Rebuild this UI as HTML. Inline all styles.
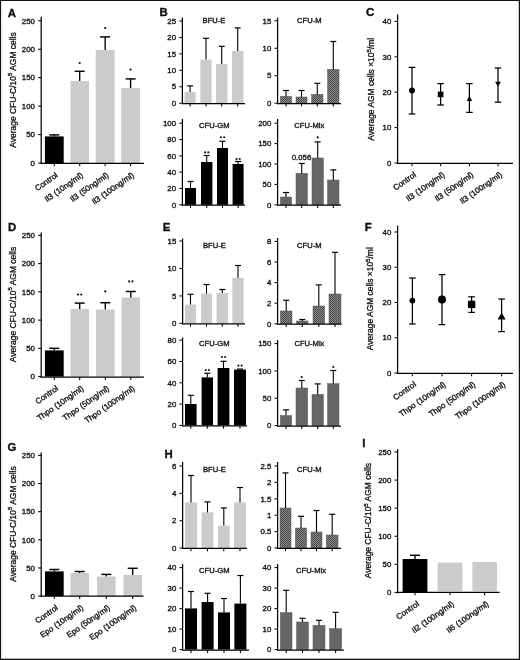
<!DOCTYPE html>
<html lang="en">
<head>
<meta charset="utf-8">
<title>Figure</title>
<style>
html,body{margin:0;padding:0;background:#fff;}
body{width:520px;height:660px;overflow:hidden;position:relative;}
svg{display:block;position:absolute;left:0;top:0;}
svg text{font-family:"Liberation Sans", Arial, Helvetica, sans-serif;fill:#0a0a0a;stroke:#0a0a0a;stroke-width:0.3px;}
</style>
</head>
<body>
<svg width="520" height="660" viewBox="0 0 520 660">
<defs>
<pattern id="ht" width="2" height="2" patternUnits="userSpaceOnUse">
<rect width="2" height="2" fill="#8a8a8a"/>
<rect x="0" y="0" width="1" height="1" fill="#4a4a4a"/>
<rect x="1" y="1" width="1" height="1" fill="#4a4a4a"/>
</pattern>
<filter id="soft" x="0" y="0" width="520" height="660" filterUnits="userSpaceOnUse"><feGaussianBlur stdDeviation="0.35"/></filter>
</defs>
<rect x="0" y="0" width="520" height="660" fill="#fff"/>
<g filter="url(#soft)">
<rect x="44.9" y="136.4" width="18.8" height="26.6" fill="#000000"/>
<rect x="70.4" y="81" width="18.6" height="82" fill="#cbcbcb"/>
<rect x="95.7" y="50" width="18.9" height="113" fill="#cbcbcb"/>
<rect x="121.2" y="88" width="18.8" height="75" fill="#cbcbcb"/>
<line x1="54.3" y1="135" x2="54.3" y2="136.4" stroke="#000" stroke-width="1.35"/>
<line x1="49.3" y1="134.9" x2="59.3" y2="134.9" stroke="#000" stroke-width="1.45"/>
<line x1="79.7" y1="71.4" x2="79.7" y2="81" stroke="#000" stroke-width="1.35"/>
<line x1="74.7" y1="71.3" x2="84.7" y2="71.3" stroke="#000" stroke-width="1.45"/>
<line x1="105.15" y1="37" x2="105.15" y2="50" stroke="#000" stroke-width="1.35"/>
<line x1="100.15" y1="36.9" x2="110.15" y2="36.9" stroke="#000" stroke-width="1.45"/>
<line x1="130.6" y1="79" x2="130.6" y2="88" stroke="#000" stroke-width="1.35"/>
<line x1="125.6" y1="78.9" x2="135.6" y2="78.9" stroke="#000" stroke-width="1.45"/>
<circle cx="79.7" cy="63" r="1.1" fill="#111"/>
<circle cx="105.15" cy="28" r="1.1" fill="#111"/>
<circle cx="130.6" cy="69.6" r="1.1" fill="#111"/>
<line x1="41.2" y1="16.7" x2="41.2" y2="163.95" stroke="#000" stroke-width="1.25"/>
<line x1="38.1" y1="20.8" x2="41.2" y2="20.8" stroke="#000" stroke-width="1.05"/>
<text x="34.9" y="23.5" font-size="7.85" text-anchor="end">250</text>
<line x1="38.1" y1="49.24" x2="41.2" y2="49.24" stroke="#000" stroke-width="1.05"/>
<text x="34.9" y="51.94" font-size="7.85" text-anchor="end">200</text>
<line x1="38.1" y1="77.68" x2="41.2" y2="77.68" stroke="#000" stroke-width="1.05"/>
<text x="34.9" y="80.38" font-size="7.85" text-anchor="end">150</text>
<line x1="38.1" y1="106.12" x2="41.2" y2="106.12" stroke="#000" stroke-width="1.05"/>
<text x="34.9" y="108.82" font-size="7.85" text-anchor="end">100</text>
<line x1="38.1" y1="134.56" x2="41.2" y2="134.56" stroke="#000" stroke-width="1.05"/>
<text x="34.9" y="137.26" font-size="7.85" text-anchor="end">50</text>
<line x1="38.1" y1="163" x2="41.2" y2="163" stroke="#000" stroke-width="1.05"/>
<text x="34.9" y="165.7" font-size="7.85" text-anchor="end">0</text>
<line x1="40.65" y1="163.4" x2="144" y2="163.4" stroke="#000" stroke-width="1.25"/>
<line x1="54.3" y1="163.4" x2="54.3" y2="166.3" stroke="#000" stroke-width="1.05"/>
<line x1="79.7" y1="163.4" x2="79.7" y2="166.3" stroke="#000" stroke-width="1.05"/>
<line x1="105.15" y1="163.4" x2="105.15" y2="166.3" stroke="#000" stroke-width="1.05"/>
<line x1="130.6" y1="163.4" x2="130.6" y2="166.3" stroke="#000" stroke-width="1.05"/>
<text font-size="8.0" text-anchor="end" word-spacing="0.4" transform="translate(58.3,176.5) rotate(-35)">Control</text>
<text font-size="8.0" text-anchor="end" word-spacing="0.4" transform="translate(83.7,176.5) rotate(-35)">Il3 (10ng/ml)</text>
<text font-size="8.0" text-anchor="end" word-spacing="0.4" transform="translate(109.15,176.5) rotate(-35)">Il3 (50ng/ml)</text>
<text font-size="8.0" text-anchor="end" word-spacing="0.4" transform="translate(134.6,176.5) rotate(-35)">Il3 (100ng/ml)</text>
<text font-size="8.45" text-anchor="middle" transform="translate(15.5,90) rotate(-90)">Average CFU-C/10<tspan font-size="6.1" dy="-3.4">5</tspan><tspan dy="3.4"> AGM cells</tspan></text>
<text x="7.7" y="16.8" font-size="11.4" text-anchor="start" font-weight="bold">A</text>
<rect x="44.9" y="350.4" width="18.8" height="26.2" fill="#000000"/>
<rect x="70.4" y="309" width="18.6" height="67.6" fill="#cbcbcb"/>
<rect x="96" y="309.6" width="18.6" height="67" fill="#cbcbcb"/>
<rect x="121.6" y="297.4" width="18.4" height="79.2" fill="#cbcbcb"/>
<line x1="54.3" y1="348.4" x2="54.3" y2="350.4" stroke="#000" stroke-width="1.35"/>
<line x1="49.3" y1="348.3" x2="59.3" y2="348.3" stroke="#000" stroke-width="1.45"/>
<line x1="79.7" y1="303.2" x2="79.7" y2="309" stroke="#000" stroke-width="1.35"/>
<line x1="74.7" y1="303.1" x2="84.7" y2="303.1" stroke="#000" stroke-width="1.45"/>
<line x1="105.3" y1="302.8" x2="105.3" y2="309.6" stroke="#000" stroke-width="1.35"/>
<line x1="100.3" y1="302.7" x2="110.3" y2="302.7" stroke="#000" stroke-width="1.45"/>
<line x1="130.8" y1="291.6" x2="130.8" y2="297.4" stroke="#000" stroke-width="1.35"/>
<line x1="125.8" y1="291.5" x2="135.8" y2="291.5" stroke="#000" stroke-width="1.45"/>
<circle cx="78.1" cy="294.6" r="1.05" fill="#111"/>
<circle cx="81.3" cy="294.6" r="1.05" fill="#111"/>
<circle cx="105.3" cy="291.4" r="1.1" fill="#111"/>
<circle cx="129.2" cy="281.4" r="1.05" fill="#111"/>
<circle cx="132.4" cy="281.4" r="1.05" fill="#111"/>
<line x1="41.2" y1="232.4" x2="41.2" y2="377.55" stroke="#000" stroke-width="1.25"/>
<line x1="38.1" y1="235.4" x2="41.2" y2="235.4" stroke="#000" stroke-width="1.05"/>
<text x="34.9" y="238.1" font-size="7.85" text-anchor="end">250</text>
<line x1="38.1" y1="263.64" x2="41.2" y2="263.64" stroke="#000" stroke-width="1.05"/>
<text x="34.9" y="266.34" font-size="7.85" text-anchor="end">200</text>
<line x1="38.1" y1="291.88" x2="41.2" y2="291.88" stroke="#000" stroke-width="1.05"/>
<text x="34.9" y="294.58" font-size="7.85" text-anchor="end">150</text>
<line x1="38.1" y1="320.12" x2="41.2" y2="320.12" stroke="#000" stroke-width="1.05"/>
<text x="34.9" y="322.82" font-size="7.85" text-anchor="end">100</text>
<line x1="38.1" y1="348.36" x2="41.2" y2="348.36" stroke="#000" stroke-width="1.05"/>
<text x="34.9" y="351.06" font-size="7.85" text-anchor="end">50</text>
<line x1="38.1" y1="376.6" x2="41.2" y2="376.6" stroke="#000" stroke-width="1.05"/>
<text x="34.9" y="379.3" font-size="7.85" text-anchor="end">0</text>
<line x1="40.65" y1="377" x2="144" y2="377" stroke="#000" stroke-width="1.25"/>
<line x1="54.3" y1="377" x2="54.3" y2="379.9" stroke="#000" stroke-width="1.05"/>
<line x1="79.7" y1="377" x2="79.7" y2="379.9" stroke="#000" stroke-width="1.05"/>
<line x1="105.3" y1="377" x2="105.3" y2="379.9" stroke="#000" stroke-width="1.05"/>
<line x1="130.8" y1="377" x2="130.8" y2="379.9" stroke="#000" stroke-width="1.05"/>
<text font-size="8.0" text-anchor="end" word-spacing="0.4" transform="translate(58.8,389.6) rotate(-35)">Control</text>
<text font-size="8.0" text-anchor="end" word-spacing="0.4" transform="translate(84.2,389.6) rotate(-35)">Thpo (10ng/ml)</text>
<text font-size="8.0" text-anchor="end" word-spacing="0.4" transform="translate(109.8,389.6) rotate(-35)">Thpo (50ng/ml)</text>
<text font-size="8.0" text-anchor="end" word-spacing="0.4" transform="translate(135.3,389.6) rotate(-35)">Thpo (100ng/ml)</text>
<text font-size="8.45" text-anchor="middle" transform="translate(15.5,304.5) rotate(-90)">Average CFU-C/10<tspan font-size="6.1" dy="-3.4">5</tspan><tspan dy="3.4"> AGM cells</tspan></text>
<text x="8" y="231" font-size="11.4" text-anchor="start" font-weight="bold">D</text>
<rect x="45" y="571.4" width="18.7" height="24.7" fill="#000000"/>
<rect x="70.4" y="573" width="18.6" height="23.1" fill="#cbcbcb"/>
<rect x="97" y="576.6" width="18.6" height="19.5" fill="#cbcbcb"/>
<rect x="123.4" y="575" width="18.6" height="21.1" fill="#cbcbcb"/>
<line x1="54.35" y1="569.6" x2="54.35" y2="571.4" stroke="#000" stroke-width="1.35"/>
<line x1="49.35" y1="569.5" x2="59.35" y2="569.5" stroke="#000" stroke-width="1.45"/>
<line x1="79.7" y1="571.6" x2="79.7" y2="573" stroke="#000" stroke-width="1.35"/>
<line x1="74.7" y1="571.5" x2="84.7" y2="571.5" stroke="#000" stroke-width="1.45"/>
<line x1="106.3" y1="574.5" x2="106.3" y2="576.6" stroke="#000" stroke-width="1.35"/>
<line x1="101.3" y1="574.4" x2="111.3" y2="574.4" stroke="#000" stroke-width="1.45"/>
<line x1="132.7" y1="568.4" x2="132.7" y2="575" stroke="#000" stroke-width="1.35"/>
<line x1="127.7" y1="568.3" x2="137.7" y2="568.3" stroke="#000" stroke-width="1.45"/>
<line x1="41.2" y1="452.4" x2="41.2" y2="597.05" stroke="#000" stroke-width="1.25"/>
<line x1="38.1" y1="455.4" x2="41.2" y2="455.4" stroke="#000" stroke-width="1.05"/>
<text x="34.9" y="458.1" font-size="7.85" text-anchor="end">250</text>
<line x1="38.1" y1="483.54" x2="41.2" y2="483.54" stroke="#000" stroke-width="1.05"/>
<text x="34.9" y="486.24" font-size="7.85" text-anchor="end">200</text>
<line x1="38.1" y1="511.68" x2="41.2" y2="511.68" stroke="#000" stroke-width="1.05"/>
<text x="34.9" y="514.38" font-size="7.85" text-anchor="end">150</text>
<line x1="38.1" y1="539.82" x2="41.2" y2="539.82" stroke="#000" stroke-width="1.05"/>
<text x="34.9" y="542.52" font-size="7.85" text-anchor="end">100</text>
<line x1="38.1" y1="567.96" x2="41.2" y2="567.96" stroke="#000" stroke-width="1.05"/>
<text x="34.9" y="570.66" font-size="7.85" text-anchor="end">50</text>
<line x1="38.1" y1="596.1" x2="41.2" y2="596.1" stroke="#000" stroke-width="1.05"/>
<text x="34.9" y="598.8" font-size="7.85" text-anchor="end">0</text>
<line x1="40.65" y1="596.1" x2="143.5" y2="596.1" stroke="#000" stroke-width="1.25"/>
<line x1="54.35" y1="596.1" x2="54.35" y2="599" stroke="#000" stroke-width="1.05"/>
<line x1="79.7" y1="596.1" x2="79.7" y2="599" stroke="#000" stroke-width="1.05"/>
<line x1="106.3" y1="596.1" x2="106.3" y2="599" stroke="#000" stroke-width="1.05"/>
<line x1="132.7" y1="596.1" x2="132.7" y2="599" stroke="#000" stroke-width="1.05"/>
<text font-size="8.0" text-anchor="end" word-spacing="0.4" transform="translate(58.55,609) rotate(-35)">Control</text>
<text font-size="8.0" text-anchor="end" word-spacing="0.4" transform="translate(83.9,609) rotate(-35)">Epo (10ng/ml)</text>
<text font-size="8.0" text-anchor="end" word-spacing="0.4" transform="translate(110.5,609) rotate(-35)">Epo (50ng/ml)</text>
<text font-size="8.0" text-anchor="end" word-spacing="0.4" transform="translate(136.9,609) rotate(-35)">Epo (100ng/ml)</text>
<text font-size="8.45" text-anchor="middle" transform="translate(15.5,524) rotate(-90)">Average CFU-C/10<tspan font-size="6.1" dy="-3.4">5</tspan><tspan dy="3.4"> AGM cells</tspan></text>
<text x="7.6" y="450.6" font-size="11.4" text-anchor="start" font-weight="bold">G</text>
<rect x="402.6" y="559" width="24.8" height="33.4" fill="#000000"/>
<rect x="437.6" y="562.6" width="24.8" height="28.6" fill="#cbcbcb"/>
<rect x="472.4" y="562" width="24.6" height="29.2" fill="#cbcbcb"/>
<line x1="415" y1="555.4" x2="415" y2="559" stroke="#000" stroke-width="1.35"/>
<line x1="410" y1="555.3" x2="420" y2="555.3" stroke="#000" stroke-width="1.45"/>
<line x1="397.6" y1="449" x2="397.6" y2="593.35" stroke="#000" stroke-width="1.25"/>
<line x1="394.5" y1="452" x2="397.6" y2="452" stroke="#000" stroke-width="1.05"/>
<text x="391.3" y="454.7" font-size="7.85" text-anchor="end">250</text>
<line x1="394.5" y1="480.08" x2="397.6" y2="480.08" stroke="#000" stroke-width="1.05"/>
<text x="391.3" y="482.78" font-size="7.85" text-anchor="end">200</text>
<line x1="394.5" y1="508.16" x2="397.6" y2="508.16" stroke="#000" stroke-width="1.05"/>
<text x="391.3" y="510.86" font-size="7.85" text-anchor="end">150</text>
<line x1="394.5" y1="536.24" x2="397.6" y2="536.24" stroke="#000" stroke-width="1.05"/>
<text x="391.3" y="538.94" font-size="7.85" text-anchor="end">100</text>
<line x1="394.5" y1="564.32" x2="397.6" y2="564.32" stroke="#000" stroke-width="1.05"/>
<text x="391.3" y="567.02" font-size="7.85" text-anchor="end">50</text>
<line x1="394.5" y1="592.4" x2="397.6" y2="592.4" stroke="#000" stroke-width="1.05"/>
<text x="391.3" y="595.1" font-size="7.85" text-anchor="end">0</text>
<line x1="397.05" y1="592.4" x2="499.6" y2="592.4" stroke="#000" stroke-width="1.25"/>
<line x1="415" y1="592.4" x2="415" y2="595.3" stroke="#000" stroke-width="1.05"/>
<line x1="450" y1="592.4" x2="450" y2="595.3" stroke="#000" stroke-width="1.05"/>
<line x1="484.6" y1="592.4" x2="484.6" y2="595.3" stroke="#000" stroke-width="1.05"/>
<text font-size="8.0" text-anchor="end" word-spacing="0.4" transform="translate(419.7,605.1) rotate(-35)">Control</text>
<text font-size="8.0" text-anchor="end" word-spacing="0.4" transform="translate(454.7,605.1) rotate(-35)">Il2 (100ng/ml)</text>
<text font-size="8.0" text-anchor="end" word-spacing="0.4" transform="translate(489.3,605.1) rotate(-35)">Il6 (100ng/ml)</text>
<text font-size="8.45" text-anchor="middle" transform="translate(371,520.6) rotate(-90)">Average CFU-C/10<tspan font-size="6.1" dy="-3.4">5</tspan><tspan dy="3.4"> AGM cells</tspan></text>
<text x="362.3" y="446.6" font-size="11.4" text-anchor="start" font-weight="bold">I</text>
<rect x="184.6" y="92" width="11" height="11.2" fill="#cbcbcb"/>
<rect x="200.4" y="59.6" width="11.2" height="43.6" fill="#cbcbcb"/>
<rect x="216" y="64" width="11.4" height="39.2" fill="#cbcbcb"/>
<rect x="232" y="51" width="11.4" height="52.2" fill="#cbcbcb"/>
<line x1="190.1" y1="86" x2="190.1" y2="92" stroke="#000" stroke-width="1.1"/>
<line x1="187.1" y1="85.9" x2="193.1" y2="85.9" stroke="#000" stroke-width="1.2"/>
<line x1="206" y1="38.4" x2="206" y2="59.6" stroke="#000" stroke-width="1.1"/>
<line x1="203" y1="38.3" x2="209" y2="38.3" stroke="#000" stroke-width="1.2"/>
<line x1="221.7" y1="46.4" x2="221.7" y2="64" stroke="#000" stroke-width="1.1"/>
<line x1="218.7" y1="46.3" x2="224.7" y2="46.3" stroke="#000" stroke-width="1.2"/>
<line x1="237.7" y1="28" x2="237.7" y2="51" stroke="#000" stroke-width="1.1"/>
<line x1="234.7" y1="27.9" x2="240.7" y2="27.9" stroke="#000" stroke-width="1.2"/>
<line x1="182.4" y1="17.6" x2="182.4" y2="104.15" stroke="#000" stroke-width="1.25"/>
<line x1="179.3" y1="21" x2="182.4" y2="21" stroke="#000" stroke-width="1.05"/>
<text x="176.1" y="23.7" font-size="7.85" text-anchor="end">25</text>
<line x1="179.3" y1="37.44" x2="182.4" y2="37.44" stroke="#000" stroke-width="1.05"/>
<text x="176.1" y="40.14" font-size="7.85" text-anchor="end">20</text>
<line x1="179.3" y1="53.88" x2="182.4" y2="53.88" stroke="#000" stroke-width="1.05"/>
<text x="176.1" y="56.58" font-size="7.85" text-anchor="end">15</text>
<line x1="179.3" y1="70.32" x2="182.4" y2="70.32" stroke="#000" stroke-width="1.05"/>
<text x="176.1" y="73.02" font-size="7.85" text-anchor="end">10</text>
<line x1="179.3" y1="86.76" x2="182.4" y2="86.76" stroke="#000" stroke-width="1.05"/>
<text x="176.1" y="89.46" font-size="7.85" text-anchor="end">5</text>
<line x1="179.3" y1="103.2" x2="182.4" y2="103.2" stroke="#000" stroke-width="1.05"/>
<text x="176.1" y="105.9" font-size="7.85" text-anchor="end">0</text>
<line x1="181.85" y1="103.6" x2="245" y2="103.6" stroke="#000" stroke-width="1.25"/>
<line x1="190.1" y1="103.6" x2="190.1" y2="106.5" stroke="#000" stroke-width="1.05"/>
<line x1="206" y1="103.6" x2="206" y2="106.5" stroke="#000" stroke-width="1.05"/>
<line x1="221.7" y1="103.6" x2="221.7" y2="106.5" stroke="#000" stroke-width="1.05"/>
<line x1="237.7" y1="103.6" x2="237.7" y2="106.5" stroke="#000" stroke-width="1.05"/>
<text x="214" y="23.3" font-size="7.6" text-anchor="middle">BFU-E</text>
<rect x="280.4" y="96.4" width="11.2" height="6.8" fill="url(#ht)" stroke="#555" stroke-width="0.5"/>
<rect x="296" y="97" width="11" height="6.2" fill="url(#ht)" stroke="#555" stroke-width="0.5"/>
<rect x="311.6" y="94.4" width="11.4" height="8.8" fill="url(#ht)" stroke="#555" stroke-width="0.5"/>
<rect x="327.6" y="69.4" width="11.4" height="33.8" fill="url(#ht)" stroke="#555" stroke-width="0.5"/>
<line x1="286" y1="90.6" x2="286" y2="96.4" stroke="#000" stroke-width="1.1"/>
<line x1="283" y1="90.5" x2="289" y2="90.5" stroke="#000" stroke-width="1.2"/>
<line x1="301.5" y1="90.6" x2="301.5" y2="97" stroke="#000" stroke-width="1.1"/>
<line x1="298.5" y1="90.5" x2="304.5" y2="90.5" stroke="#000" stroke-width="1.2"/>
<line x1="317.3" y1="83.4" x2="317.3" y2="94.4" stroke="#000" stroke-width="1.1"/>
<line x1="314.3" y1="83.3" x2="320.3" y2="83.3" stroke="#000" stroke-width="1.2"/>
<line x1="333.3" y1="41.6" x2="333.3" y2="69.4" stroke="#000" stroke-width="1.1"/>
<line x1="330.3" y1="41.5" x2="336.3" y2="41.5" stroke="#000" stroke-width="1.2"/>
<line x1="277.6" y1="17.6" x2="277.6" y2="104.15" stroke="#000" stroke-width="1.25"/>
<line x1="274.5" y1="20.8" x2="277.6" y2="20.8" stroke="#000" stroke-width="1.05"/>
<text x="271.3" y="23.5" font-size="7.85" text-anchor="end">15</text>
<line x1="274.5" y1="48.27" x2="277.6" y2="48.27" stroke="#000" stroke-width="1.05"/>
<text x="271.3" y="50.97" font-size="7.85" text-anchor="end">10</text>
<line x1="274.5" y1="75.73" x2="277.6" y2="75.73" stroke="#000" stroke-width="1.05"/>
<text x="271.3" y="78.43" font-size="7.85" text-anchor="end">5</text>
<line x1="274.5" y1="103.2" x2="277.6" y2="103.2" stroke="#000" stroke-width="1.05"/>
<text x="271.3" y="105.9" font-size="7.85" text-anchor="end">0</text>
<line x1="277.05" y1="103.6" x2="341" y2="103.6" stroke="#000" stroke-width="1.25"/>
<line x1="286" y1="103.6" x2="286" y2="106.5" stroke="#000" stroke-width="1.05"/>
<line x1="301.5" y1="103.6" x2="301.5" y2="106.5" stroke="#000" stroke-width="1.05"/>
<line x1="317.3" y1="103.6" x2="317.3" y2="106.5" stroke="#000" stroke-width="1.05"/>
<line x1="333.3" y1="103.6" x2="333.3" y2="106.5" stroke="#000" stroke-width="1.05"/>
<text x="309.3" y="23.3" font-size="7.6" text-anchor="middle">CFU-M</text>
<rect x="185" y="188" width="11" height="16.8" fill="#000000"/>
<rect x="201" y="162" width="11.4" height="42.8" fill="#000000"/>
<rect x="217" y="148" width="11" height="56.8" fill="#000000"/>
<rect x="232.6" y="164" width="11" height="40.8" fill="#000000"/>
<line x1="190.5" y1="181.6" x2="190.5" y2="188" stroke="#000" stroke-width="1.1"/>
<line x1="187.5" y1="181.5" x2="193.5" y2="181.5" stroke="#000" stroke-width="1.2"/>
<line x1="206.7" y1="155.6" x2="206.7" y2="162" stroke="#000" stroke-width="1.1"/>
<line x1="203.7" y1="155.5" x2="209.7" y2="155.5" stroke="#000" stroke-width="1.2"/>
<line x1="222.5" y1="141.4" x2="222.5" y2="148" stroke="#000" stroke-width="1.1"/>
<line x1="219.5" y1="141.3" x2="225.5" y2="141.3" stroke="#000" stroke-width="1.2"/>
<line x1="238.1" y1="161.6" x2="238.1" y2="164" stroke="#000" stroke-width="1.1"/>
<line x1="235.1" y1="161.5" x2="241.1" y2="161.5" stroke="#000" stroke-width="1.2"/>
<circle cx="205.1" cy="152.4" r="1.05" fill="#111"/>
<circle cx="208.3" cy="152.4" r="1.05" fill="#111"/>
<circle cx="220.9" cy="137.2" r="1.05" fill="#111"/>
<circle cx="224.1" cy="137.2" r="1.05" fill="#111"/>
<circle cx="236.5" cy="159" r="1.05" fill="#111"/>
<circle cx="239.7" cy="159" r="1.05" fill="#111"/>
<line x1="182.4" y1="119" x2="182.4" y2="205.75" stroke="#000" stroke-width="1.25"/>
<line x1="179.3" y1="123.2" x2="182.4" y2="123.2" stroke="#000" stroke-width="1.05"/>
<text x="176.1" y="125.9" font-size="7.85" text-anchor="end">100</text>
<line x1="179.3" y1="139.52" x2="182.4" y2="139.52" stroke="#000" stroke-width="1.05"/>
<text x="176.1" y="142.22" font-size="7.85" text-anchor="end">80</text>
<line x1="179.3" y1="155.84" x2="182.4" y2="155.84" stroke="#000" stroke-width="1.05"/>
<text x="176.1" y="158.54" font-size="7.85" text-anchor="end">60</text>
<line x1="179.3" y1="172.16" x2="182.4" y2="172.16" stroke="#000" stroke-width="1.05"/>
<text x="176.1" y="174.86" font-size="7.85" text-anchor="end">40</text>
<line x1="179.3" y1="188.48" x2="182.4" y2="188.48" stroke="#000" stroke-width="1.05"/>
<text x="176.1" y="191.18" font-size="7.85" text-anchor="end">20</text>
<line x1="179.3" y1="204.8" x2="182.4" y2="204.8" stroke="#000" stroke-width="1.05"/>
<text x="176.1" y="207.5" font-size="7.85" text-anchor="end">0</text>
<line x1="181.85" y1="205.2" x2="245" y2="205.2" stroke="#000" stroke-width="1.25"/>
<line x1="190.5" y1="205.2" x2="190.5" y2="208.1" stroke="#000" stroke-width="1.05"/>
<line x1="206.7" y1="205.2" x2="206.7" y2="208.1" stroke="#000" stroke-width="1.05"/>
<line x1="222.5" y1="205.2" x2="222.5" y2="208.1" stroke="#000" stroke-width="1.05"/>
<line x1="238.1" y1="205.2" x2="238.1" y2="208.1" stroke="#000" stroke-width="1.05"/>
<text x="214.3" y="127.7" font-size="7.6" text-anchor="middle">CFU-GM</text>
<rect x="280.4" y="197" width="11.2" height="7.8" fill="#666666" stroke="#555" stroke-width="0.5"/>
<rect x="296" y="173.4" width="11.4" height="31.4" fill="#666666" stroke="#555" stroke-width="0.5"/>
<rect x="312" y="158" width="11.4" height="46.8" fill="#666666" stroke="#555" stroke-width="0.5"/>
<rect x="327.6" y="180" width="11.4" height="24.8" fill="#666666" stroke="#555" stroke-width="0.5"/>
<line x1="286" y1="192.6" x2="286" y2="197" stroke="#000" stroke-width="1.1"/>
<line x1="283" y1="192.5" x2="289" y2="192.5" stroke="#000" stroke-width="1.2"/>
<line x1="301.7" y1="163.6" x2="301.7" y2="173.4" stroke="#000" stroke-width="1.1"/>
<line x1="298.7" y1="163.5" x2="304.7" y2="163.5" stroke="#000" stroke-width="1.2"/>
<line x1="317.7" y1="142" x2="317.7" y2="158" stroke="#000" stroke-width="1.1"/>
<line x1="314.7" y1="141.9" x2="320.7" y2="141.9" stroke="#000" stroke-width="1.2"/>
<line x1="333.3" y1="170" x2="333.3" y2="180" stroke="#000" stroke-width="1.1"/>
<line x1="330.3" y1="169.9" x2="336.3" y2="169.9" stroke="#000" stroke-width="1.2"/>
<circle cx="317.7" cy="137.4" r="1.1" fill="#111"/>
<line x1="277.6" y1="119" x2="277.6" y2="205.75" stroke="#000" stroke-width="1.25"/>
<line x1="274.5" y1="123.2" x2="277.6" y2="123.2" stroke="#000" stroke-width="1.05"/>
<text x="271.3" y="125.9" font-size="7.85" text-anchor="end">200</text>
<line x1="274.5" y1="143.6" x2="277.6" y2="143.6" stroke="#000" stroke-width="1.05"/>
<text x="271.3" y="146.3" font-size="7.85" text-anchor="end">150</text>
<line x1="274.5" y1="164" x2="277.6" y2="164" stroke="#000" stroke-width="1.05"/>
<text x="271.3" y="166.7" font-size="7.85" text-anchor="end">100</text>
<line x1="274.5" y1="184.4" x2="277.6" y2="184.4" stroke="#000" stroke-width="1.05"/>
<text x="271.3" y="187.1" font-size="7.85" text-anchor="end">50</text>
<line x1="274.5" y1="204.8" x2="277.6" y2="204.8" stroke="#000" stroke-width="1.05"/>
<text x="271.3" y="207.5" font-size="7.85" text-anchor="end">0</text>
<line x1="277.05" y1="205.2" x2="341" y2="205.2" stroke="#000" stroke-width="1.25"/>
<line x1="286" y1="205.2" x2="286" y2="208.1" stroke="#000" stroke-width="1.05"/>
<line x1="301.7" y1="205.2" x2="301.7" y2="208.1" stroke="#000" stroke-width="1.05"/>
<line x1="317.7" y1="205.2" x2="317.7" y2="208.1" stroke="#000" stroke-width="1.05"/>
<line x1="333.3" y1="205.2" x2="333.3" y2="208.1" stroke="#000" stroke-width="1.05"/>
<text x="309.3" y="127.7" font-size="7.6" text-anchor="middle">CFU-Mix</text>
<text x="301.5" y="160.3" font-size="7.85" text-anchor="middle">0.056</text>
<text x="159.4" y="15.8" font-size="11.4" text-anchor="start" font-weight="bold">B</text>
<rect x="185" y="304.6" width="11" height="18.8" fill="#cbcbcb"/>
<rect x="201" y="293.6" width="11" height="29.8" fill="#cbcbcb"/>
<rect x="216.6" y="293" width="11.4" height="30.4" fill="#cbcbcb"/>
<rect x="232.4" y="278" width="11.2" height="45.4" fill="#cbcbcb"/>
<line x1="190.5" y1="294.4" x2="190.5" y2="304.6" stroke="#000" stroke-width="1.1"/>
<line x1="187.5" y1="294.3" x2="193.5" y2="294.3" stroke="#000" stroke-width="1.2"/>
<line x1="206.5" y1="284.6" x2="206.5" y2="293.6" stroke="#000" stroke-width="1.1"/>
<line x1="203.5" y1="284.5" x2="209.5" y2="284.5" stroke="#000" stroke-width="1.2"/>
<line x1="222.3" y1="289.6" x2="222.3" y2="293" stroke="#000" stroke-width="1.1"/>
<line x1="219.3" y1="289.5" x2="225.3" y2="289.5" stroke="#000" stroke-width="1.2"/>
<line x1="238" y1="265.6" x2="238" y2="278" stroke="#000" stroke-width="1.1"/>
<line x1="235" y1="265.5" x2="241" y2="265.5" stroke="#000" stroke-width="1.2"/>
<line x1="182.6" y1="238.6" x2="182.6" y2="324.35" stroke="#000" stroke-width="1.25"/>
<line x1="179.5" y1="241" x2="182.6" y2="241" stroke="#000" stroke-width="1.05"/>
<text x="176.3" y="243.7" font-size="7.85" text-anchor="end">15</text>
<line x1="179.5" y1="268.47" x2="182.6" y2="268.47" stroke="#000" stroke-width="1.05"/>
<text x="176.3" y="271.17" font-size="7.85" text-anchor="end">10</text>
<line x1="179.5" y1="295.93" x2="182.6" y2="295.93" stroke="#000" stroke-width="1.05"/>
<text x="176.3" y="298.63" font-size="7.85" text-anchor="end">5</text>
<line x1="179.5" y1="323.4" x2="182.6" y2="323.4" stroke="#000" stroke-width="1.05"/>
<text x="176.3" y="326.1" font-size="7.85" text-anchor="end">0</text>
<line x1="182.05" y1="323.8" x2="245" y2="323.8" stroke="#000" stroke-width="1.25"/>
<line x1="190.5" y1="323.8" x2="190.5" y2="326.7" stroke="#000" stroke-width="1.05"/>
<line x1="206.5" y1="323.8" x2="206.5" y2="326.7" stroke="#000" stroke-width="1.05"/>
<line x1="222.3" y1="323.8" x2="222.3" y2="326.7" stroke="#000" stroke-width="1.05"/>
<line x1="238" y1="323.8" x2="238" y2="326.7" stroke="#000" stroke-width="1.05"/>
<text x="214.4" y="247.7" font-size="7.6" text-anchor="middle">BFU-E</text>
<rect x="280.4" y="311" width="11.6" height="12.8" fill="url(#ht)" stroke="#555" stroke-width="0.5"/>
<rect x="296.6" y="321" width="11.4" height="2.8" fill="url(#ht)" stroke="#555" stroke-width="0.5"/>
<rect x="313" y="306" width="11.6" height="17.8" fill="url(#ht)" stroke="#555" stroke-width="0.5"/>
<rect x="329" y="294" width="12" height="29.8" fill="url(#ht)" stroke="#555" stroke-width="0.5"/>
<line x1="286.2" y1="300.4" x2="286.2" y2="311" stroke="#000" stroke-width="1.1"/>
<line x1="283.2" y1="300.3" x2="289.2" y2="300.3" stroke="#000" stroke-width="1.2"/>
<line x1="302.3" y1="319.6" x2="302.3" y2="321" stroke="#000" stroke-width="1.1"/>
<line x1="299.3" y1="319.5" x2="305.3" y2="319.5" stroke="#000" stroke-width="1.2"/>
<line x1="318.8" y1="285" x2="318.8" y2="306" stroke="#000" stroke-width="1.1"/>
<line x1="315.8" y1="284.9" x2="321.8" y2="284.9" stroke="#000" stroke-width="1.2"/>
<line x1="335" y1="252.4" x2="335" y2="294" stroke="#000" stroke-width="1.1"/>
<line x1="332" y1="252.3" x2="338" y2="252.3" stroke="#000" stroke-width="1.2"/>
<line x1="277.6" y1="238" x2="277.6" y2="324.75" stroke="#000" stroke-width="1.25"/>
<line x1="274.5" y1="241.4" x2="277.6" y2="241.4" stroke="#000" stroke-width="1.05"/>
<text x="271.3" y="244.1" font-size="7.85" text-anchor="end">8</text>
<line x1="274.5" y1="262" x2="277.6" y2="262" stroke="#000" stroke-width="1.05"/>
<text x="271.3" y="264.7" font-size="7.85" text-anchor="end">6</text>
<line x1="274.5" y1="282.6" x2="277.6" y2="282.6" stroke="#000" stroke-width="1.05"/>
<text x="271.3" y="285.3" font-size="7.85" text-anchor="end">4</text>
<line x1="274.5" y1="303.2" x2="277.6" y2="303.2" stroke="#000" stroke-width="1.05"/>
<text x="271.3" y="305.9" font-size="7.85" text-anchor="end">2</text>
<line x1="274.5" y1="323.8" x2="277.6" y2="323.8" stroke="#000" stroke-width="1.05"/>
<text x="271.3" y="326.5" font-size="7.85" text-anchor="end">0</text>
<line x1="277.05" y1="324.2" x2="341.6" y2="324.2" stroke="#000" stroke-width="1.25"/>
<line x1="286.2" y1="324.2" x2="286.2" y2="327.1" stroke="#000" stroke-width="1.05"/>
<line x1="302.3" y1="324.2" x2="302.3" y2="327.1" stroke="#000" stroke-width="1.05"/>
<line x1="318.8" y1="324.2" x2="318.8" y2="327.1" stroke="#000" stroke-width="1.05"/>
<line x1="335" y1="324.2" x2="335" y2="327.1" stroke="#000" stroke-width="1.05"/>
<text x="309.3" y="247.7" font-size="7.6" text-anchor="middle">CFU-M</text>
<rect x="185" y="404" width="11.6" height="21.4" fill="#000000"/>
<rect x="201.6" y="377.4" width="11.4" height="48" fill="#000000"/>
<rect x="217.6" y="368" width="11.8" height="57.4" fill="#000000"/>
<rect x="234" y="369.6" width="12" height="55.8" fill="#000000"/>
<line x1="190.8" y1="395.4" x2="190.8" y2="404" stroke="#000" stroke-width="1.1"/>
<line x1="187.8" y1="395.3" x2="193.8" y2="395.3" stroke="#000" stroke-width="1.2"/>
<line x1="207.3" y1="373.4" x2="207.3" y2="377.4" stroke="#000" stroke-width="1.1"/>
<line x1="204.3" y1="373.3" x2="210.3" y2="373.3" stroke="#000" stroke-width="1.2"/>
<line x1="223.5" y1="361.4" x2="223.5" y2="368" stroke="#000" stroke-width="1.1"/>
<line x1="220.5" y1="361.3" x2="226.5" y2="361.3" stroke="#000" stroke-width="1.2"/>
<line x1="240" y1="369.2" x2="240" y2="369.6" stroke="#000" stroke-width="1.1"/>
<line x1="237" y1="369.1" x2="243" y2="369.1" stroke="#000" stroke-width="1.2"/>
<circle cx="205.7" cy="370" r="1.05" fill="#111"/>
<circle cx="208.9" cy="370" r="1.05" fill="#111"/>
<circle cx="221.9" cy="357" r="1.05" fill="#111"/>
<circle cx="225.1" cy="357" r="1.05" fill="#111"/>
<circle cx="238.4" cy="365.6" r="1.05" fill="#111"/>
<circle cx="241.6" cy="365.6" r="1.05" fill="#111"/>
<line x1="182.6" y1="337.6" x2="182.6" y2="426.35" stroke="#000" stroke-width="1.25"/>
<line x1="179.5" y1="340.2" x2="182.6" y2="340.2" stroke="#000" stroke-width="1.05"/>
<text x="176.3" y="342.9" font-size="7.85" text-anchor="end">80</text>
<line x1="179.5" y1="361.5" x2="182.6" y2="361.5" stroke="#000" stroke-width="1.05"/>
<text x="176.3" y="364.2" font-size="7.85" text-anchor="end">60</text>
<line x1="179.5" y1="382.8" x2="182.6" y2="382.8" stroke="#000" stroke-width="1.05"/>
<text x="176.3" y="385.5" font-size="7.85" text-anchor="end">40</text>
<line x1="179.5" y1="404.1" x2="182.6" y2="404.1" stroke="#000" stroke-width="1.05"/>
<text x="176.3" y="406.8" font-size="7.85" text-anchor="end">20</text>
<line x1="179.5" y1="425.4" x2="182.6" y2="425.4" stroke="#000" stroke-width="1.05"/>
<text x="176.3" y="428.1" font-size="7.85" text-anchor="end">0</text>
<line x1="182.05" y1="425.8" x2="247" y2="425.8" stroke="#000" stroke-width="1.25"/>
<line x1="190.8" y1="425.8" x2="190.8" y2="428.7" stroke="#000" stroke-width="1.05"/>
<line x1="207.3" y1="425.8" x2="207.3" y2="428.7" stroke="#000" stroke-width="1.05"/>
<line x1="223.5" y1="425.8" x2="223.5" y2="428.7" stroke="#000" stroke-width="1.05"/>
<line x1="240" y1="425.8" x2="240" y2="428.7" stroke="#000" stroke-width="1.05"/>
<text x="214.3" y="346.3" font-size="7.6" text-anchor="middle">CFU-GM</text>
<rect x="280.4" y="415.6" width="11.2" height="10" fill="#666666" stroke="#555" stroke-width="0.5"/>
<rect x="296" y="388" width="11.6" height="37.6" fill="#666666" stroke="#555" stroke-width="0.5"/>
<rect x="312" y="394.4" width="11.4" height="31.2" fill="#666666" stroke="#555" stroke-width="0.5"/>
<rect x="327.6" y="383.6" width="11.4" height="42" fill="#666666" stroke="#555" stroke-width="0.5"/>
<line x1="286" y1="410" x2="286" y2="415.6" stroke="#000" stroke-width="1.1"/>
<line x1="283" y1="409.9" x2="289" y2="409.9" stroke="#000" stroke-width="1.2"/>
<line x1="301.8" y1="380.6" x2="301.8" y2="388" stroke="#000" stroke-width="1.1"/>
<line x1="298.8" y1="380.5" x2="304.8" y2="380.5" stroke="#000" stroke-width="1.2"/>
<line x1="317.7" y1="384" x2="317.7" y2="394.4" stroke="#000" stroke-width="1.1"/>
<line x1="314.7" y1="383.9" x2="320.7" y2="383.9" stroke="#000" stroke-width="1.2"/>
<line x1="333.3" y1="370.6" x2="333.3" y2="383.6" stroke="#000" stroke-width="1.1"/>
<line x1="330.3" y1="370.5" x2="336.3" y2="370.5" stroke="#000" stroke-width="1.2"/>
<circle cx="301.8" cy="377" r="1.1" fill="#111"/>
<circle cx="333.3" cy="367" r="1.1" fill="#111"/>
<line x1="277.6" y1="340" x2="277.6" y2="426.55" stroke="#000" stroke-width="1.25"/>
<line x1="274.5" y1="343.6" x2="277.6" y2="343.6" stroke="#000" stroke-width="1.05"/>
<text x="271.3" y="346.3" font-size="7.85" text-anchor="end">150</text>
<line x1="274.5" y1="370.93" x2="277.6" y2="370.93" stroke="#000" stroke-width="1.05"/>
<text x="271.3" y="373.63" font-size="7.85" text-anchor="end">100</text>
<line x1="274.5" y1="398.27" x2="277.6" y2="398.27" stroke="#000" stroke-width="1.05"/>
<text x="271.3" y="400.97" font-size="7.85" text-anchor="end">50</text>
<line x1="274.5" y1="425.6" x2="277.6" y2="425.6" stroke="#000" stroke-width="1.05"/>
<text x="271.3" y="428.3" font-size="7.85" text-anchor="end">0</text>
<line x1="277.05" y1="426" x2="341" y2="426" stroke="#000" stroke-width="1.25"/>
<line x1="286" y1="426" x2="286" y2="428.9" stroke="#000" stroke-width="1.05"/>
<line x1="301.8" y1="426" x2="301.8" y2="428.9" stroke="#000" stroke-width="1.05"/>
<line x1="317.7" y1="426" x2="317.7" y2="428.9" stroke="#000" stroke-width="1.05"/>
<line x1="333.3" y1="426" x2="333.3" y2="428.9" stroke="#000" stroke-width="1.05"/>
<text x="309.4" y="346.3" font-size="7.6" text-anchor="middle">CFU-Mix</text>
<text x="162.8" y="230.8" font-size="11.4" text-anchor="start" font-weight="bold">E</text>
<rect x="185" y="502.4" width="12" height="45.6" fill="#cbcbcb"/>
<rect x="201.6" y="512.4" width="11.8" height="35.6" fill="#cbcbcb"/>
<rect x="218" y="525.6" width="11.6" height="22.4" fill="#cbcbcb"/>
<rect x="234" y="502.4" width="12" height="45.6" fill="#cbcbcb"/>
<line x1="191" y1="475.6" x2="191" y2="502.4" stroke="#000" stroke-width="1.1"/>
<line x1="188" y1="475.5" x2="194" y2="475.5" stroke="#000" stroke-width="1.2"/>
<line x1="207.5" y1="502" x2="207.5" y2="512.4" stroke="#000" stroke-width="1.1"/>
<line x1="204.5" y1="501.9" x2="210.5" y2="501.9" stroke="#000" stroke-width="1.2"/>
<line x1="223.8" y1="508" x2="223.8" y2="525.6" stroke="#000" stroke-width="1.1"/>
<line x1="220.8" y1="507.9" x2="226.8" y2="507.9" stroke="#000" stroke-width="1.2"/>
<line x1="240" y1="487.6" x2="240" y2="502.4" stroke="#000" stroke-width="1.1"/>
<line x1="237" y1="487.5" x2="243" y2="487.5" stroke="#000" stroke-width="1.2"/>
<line x1="182.6" y1="462" x2="182.6" y2="548.95" stroke="#000" stroke-width="1.25"/>
<line x1="179.5" y1="466" x2="182.6" y2="466" stroke="#000" stroke-width="1.05"/>
<text x="176.3" y="468.7" font-size="7.85" text-anchor="end">6</text>
<line x1="179.5" y1="493.33" x2="182.6" y2="493.33" stroke="#000" stroke-width="1.05"/>
<text x="176.3" y="496.03" font-size="7.85" text-anchor="end">4</text>
<line x1="179.5" y1="520.67" x2="182.6" y2="520.67" stroke="#000" stroke-width="1.05"/>
<text x="176.3" y="523.37" font-size="7.85" text-anchor="end">2</text>
<line x1="179.5" y1="548" x2="182.6" y2="548" stroke="#000" stroke-width="1.05"/>
<text x="176.3" y="550.7" font-size="7.85" text-anchor="end">0</text>
<line x1="182.05" y1="548.4" x2="247" y2="548.4" stroke="#000" stroke-width="1.25"/>
<line x1="191" y1="548.4" x2="191" y2="551.3" stroke="#000" stroke-width="1.05"/>
<line x1="207.5" y1="548.4" x2="207.5" y2="551.3" stroke="#000" stroke-width="1.05"/>
<line x1="223.8" y1="548.4" x2="223.8" y2="551.3" stroke="#000" stroke-width="1.05"/>
<line x1="240" y1="548.4" x2="240" y2="551.3" stroke="#000" stroke-width="1.05"/>
<text x="214.4" y="471.7" font-size="7.6" text-anchor="middle">BFU-E</text>
<rect x="280" y="508" width="11" height="40" fill="url(#ht)" stroke="#555" stroke-width="0.5"/>
<rect x="295.4" y="528" width="11.2" height="20" fill="url(#ht)" stroke="#555" stroke-width="0.5"/>
<rect x="311" y="532" width="11" height="16" fill="url(#ht)" stroke="#555" stroke-width="0.5"/>
<rect x="326.4" y="535" width="11.6" height="13" fill="url(#ht)" stroke="#555" stroke-width="0.5"/>
<line x1="285.5" y1="473" x2="285.5" y2="508" stroke="#000" stroke-width="1.1"/>
<line x1="282.5" y1="472.9" x2="288.5" y2="472.9" stroke="#000" stroke-width="1.2"/>
<line x1="301" y1="516.4" x2="301" y2="528" stroke="#000" stroke-width="1.1"/>
<line x1="298" y1="516.3" x2="304" y2="516.3" stroke="#000" stroke-width="1.2"/>
<line x1="316.5" y1="510.6" x2="316.5" y2="532" stroke="#000" stroke-width="1.1"/>
<line x1="313.5" y1="510.5" x2="319.5" y2="510.5" stroke="#000" stroke-width="1.2"/>
<line x1="332.2" y1="514.4" x2="332.2" y2="535" stroke="#000" stroke-width="1.1"/>
<line x1="329.2" y1="514.3" x2="335.2" y2="514.3" stroke="#000" stroke-width="1.2"/>
<line x1="277.6" y1="462" x2="277.6" y2="548.95" stroke="#000" stroke-width="1.25"/>
<line x1="274.5" y1="466" x2="277.6" y2="466" stroke="#000" stroke-width="1.05"/>
<text x="271.3" y="468.7" font-size="7.85" text-anchor="end">2.5</text>
<line x1="274.5" y1="482.4" x2="277.6" y2="482.4" stroke="#000" stroke-width="1.05"/>
<text x="271.3" y="485.1" font-size="7.85" text-anchor="end">2</text>
<line x1="274.5" y1="498.8" x2="277.6" y2="498.8" stroke="#000" stroke-width="1.05"/>
<text x="271.3" y="501.5" font-size="7.85" text-anchor="end">1.5</text>
<line x1="274.5" y1="515.2" x2="277.6" y2="515.2" stroke="#000" stroke-width="1.05"/>
<text x="271.3" y="517.9" font-size="7.85" text-anchor="end">1</text>
<line x1="274.5" y1="531.6" x2="277.6" y2="531.6" stroke="#000" stroke-width="1.05"/>
<text x="271.3" y="534.3" font-size="7.85" text-anchor="end">0.5</text>
<line x1="274.5" y1="548" x2="277.6" y2="548" stroke="#000" stroke-width="1.05"/>
<text x="271.3" y="550.7" font-size="7.85" text-anchor="end">0</text>
<line x1="277.05" y1="548.4" x2="341" y2="548.4" stroke="#000" stroke-width="1.25"/>
<line x1="285.5" y1="548.4" x2="285.5" y2="551.3" stroke="#000" stroke-width="1.05"/>
<line x1="301" y1="548.4" x2="301" y2="551.3" stroke="#000" stroke-width="1.05"/>
<line x1="316.5" y1="548.4" x2="316.5" y2="551.3" stroke="#000" stroke-width="1.05"/>
<line x1="332.2" y1="548.4" x2="332.2" y2="551.3" stroke="#000" stroke-width="1.05"/>
<text x="309.3" y="471.7" font-size="7.6" text-anchor="middle">CFU-M</text>
<rect x="185" y="608.4" width="12" height="41.2" fill="#000000"/>
<rect x="201.6" y="602" width="12" height="47.6" fill="#000000"/>
<rect x="218" y="612.4" width="12" height="37.2" fill="#000000"/>
<rect x="234.4" y="603.6" width="12" height="46" fill="#000000"/>
<line x1="191" y1="591.6" x2="191" y2="608.4" stroke="#000" stroke-width="1.1"/>
<line x1="188" y1="591.5" x2="194" y2="591.5" stroke="#000" stroke-width="1.2"/>
<line x1="207.6" y1="593.4" x2="207.6" y2="602" stroke="#000" stroke-width="1.1"/>
<line x1="204.6" y1="593.3" x2="210.6" y2="593.3" stroke="#000" stroke-width="1.2"/>
<line x1="224" y1="598.6" x2="224" y2="612.4" stroke="#000" stroke-width="1.1"/>
<line x1="221" y1="598.5" x2="227" y2="598.5" stroke="#000" stroke-width="1.2"/>
<line x1="240.4" y1="575.6" x2="240.4" y2="603.6" stroke="#000" stroke-width="1.1"/>
<line x1="237.4" y1="575.5" x2="243.4" y2="575.5" stroke="#000" stroke-width="1.2"/>
<line x1="182.6" y1="564" x2="182.6" y2="650.55" stroke="#000" stroke-width="1.25"/>
<line x1="179.5" y1="567.6" x2="182.6" y2="567.6" stroke="#000" stroke-width="1.05"/>
<text x="176.3" y="570.3" font-size="7.85" text-anchor="end">40</text>
<line x1="179.5" y1="588.1" x2="182.6" y2="588.1" stroke="#000" stroke-width="1.05"/>
<text x="176.3" y="590.8" font-size="7.85" text-anchor="end">30</text>
<line x1="179.5" y1="608.6" x2="182.6" y2="608.6" stroke="#000" stroke-width="1.05"/>
<text x="176.3" y="611.3" font-size="7.85" text-anchor="end">20</text>
<line x1="179.5" y1="629.1" x2="182.6" y2="629.1" stroke="#000" stroke-width="1.05"/>
<text x="176.3" y="631.8" font-size="7.85" text-anchor="end">10</text>
<line x1="179.5" y1="649.6" x2="182.6" y2="649.6" stroke="#000" stroke-width="1.05"/>
<text x="176.3" y="652.3" font-size="7.85" text-anchor="end">0</text>
<line x1="182.05" y1="650" x2="249" y2="650" stroke="#000" stroke-width="1.25"/>
<line x1="191" y1="650" x2="191" y2="652.9" stroke="#000" stroke-width="1.05"/>
<line x1="207.6" y1="650" x2="207.6" y2="652.9" stroke="#000" stroke-width="1.05"/>
<line x1="224" y1="650" x2="224" y2="652.9" stroke="#000" stroke-width="1.05"/>
<line x1="240.4" y1="650" x2="240.4" y2="652.9" stroke="#000" stroke-width="1.05"/>
<text x="214.3" y="573.1" font-size="7.6" text-anchor="middle">CFU-GM</text>
<rect x="280.4" y="612.6" width="11.6" height="37" fill="#666666" stroke="#555" stroke-width="0.5"/>
<rect x="296.6" y="622" width="11.8" height="27.6" fill="#666666" stroke="#555" stroke-width="0.5"/>
<rect x="313" y="625.4" width="12" height="24.2" fill="#666666" stroke="#555" stroke-width="0.5"/>
<rect x="329.6" y="628.6" width="12" height="21" fill="#666666" stroke="#555" stroke-width="0.5"/>
<line x1="286.2" y1="590.4" x2="286.2" y2="612.6" stroke="#000" stroke-width="1.1"/>
<line x1="283.2" y1="590.3" x2="289.2" y2="590.3" stroke="#000" stroke-width="1.2"/>
<line x1="302.5" y1="618.4" x2="302.5" y2="622" stroke="#000" stroke-width="1.1"/>
<line x1="299.5" y1="618.3" x2="305.5" y2="618.3" stroke="#000" stroke-width="1.2"/>
<line x1="319" y1="620.4" x2="319" y2="625.4" stroke="#000" stroke-width="1.1"/>
<line x1="316" y1="620.3" x2="322" y2="620.3" stroke="#000" stroke-width="1.2"/>
<line x1="335.6" y1="612.4" x2="335.6" y2="628.6" stroke="#000" stroke-width="1.1"/>
<line x1="332.6" y1="612.3" x2="338.6" y2="612.3" stroke="#000" stroke-width="1.2"/>
<line x1="277.6" y1="564" x2="277.6" y2="650.55" stroke="#000" stroke-width="1.25"/>
<line x1="274.5" y1="567.6" x2="277.6" y2="567.6" stroke="#000" stroke-width="1.05"/>
<text x="271.3" y="570.3" font-size="7.85" text-anchor="end">40</text>
<line x1="274.5" y1="588.1" x2="277.6" y2="588.1" stroke="#000" stroke-width="1.05"/>
<text x="271.3" y="590.8" font-size="7.85" text-anchor="end">30</text>
<line x1="274.5" y1="608.6" x2="277.6" y2="608.6" stroke="#000" stroke-width="1.05"/>
<text x="271.3" y="611.3" font-size="7.85" text-anchor="end">20</text>
<line x1="274.5" y1="629.1" x2="277.6" y2="629.1" stroke="#000" stroke-width="1.05"/>
<text x="271.3" y="631.8" font-size="7.85" text-anchor="end">10</text>
<line x1="274.5" y1="649.6" x2="277.6" y2="649.6" stroke="#000" stroke-width="1.05"/>
<text x="271.3" y="652.3" font-size="7.85" text-anchor="end">0</text>
<line x1="277.05" y1="650" x2="344" y2="650" stroke="#000" stroke-width="1.25"/>
<line x1="286.2" y1="650" x2="286.2" y2="652.9" stroke="#000" stroke-width="1.05"/>
<line x1="302.5" y1="650" x2="302.5" y2="652.9" stroke="#000" stroke-width="1.05"/>
<line x1="319" y1="650" x2="319" y2="652.9" stroke="#000" stroke-width="1.05"/>
<line x1="335.6" y1="650" x2="335.6" y2="652.9" stroke="#000" stroke-width="1.05"/>
<text x="311" y="573.3" font-size="7.6" text-anchor="middle">CFU-Mix</text>
<text x="164.4" y="457.8" font-size="11.4" text-anchor="start" font-weight="bold">H</text>
<line x1="412" y1="67.4" x2="412" y2="114" stroke="#000" stroke-width="1.25"/>
<line x1="408.7" y1="67.4" x2="415.3" y2="67.4" stroke="#000" stroke-width="1.25"/>
<line x1="408.7" y1="114" x2="415.3" y2="114" stroke="#000" stroke-width="1.25"/>
<circle cx="412" cy="90.4" r="3" fill="#000"/>
<line x1="440.6" y1="83.6" x2="440.6" y2="105" stroke="#000" stroke-width="1.25"/>
<line x1="437.3" y1="83.6" x2="443.9" y2="83.6" stroke="#000" stroke-width="1.25"/>
<line x1="437.3" y1="105" x2="443.9" y2="105" stroke="#000" stroke-width="1.25"/>
<rect x="437.8" y="91.6" width="5.6" height="5.6" fill="#000"/>
<line x1="469.4" y1="83.6" x2="469.4" y2="112.4" stroke="#000" stroke-width="1.25"/>
<line x1="466.1" y1="83.6" x2="472.7" y2="83.6" stroke="#000" stroke-width="1.25"/>
<line x1="466.1" y1="112.4" x2="472.7" y2="112.4" stroke="#000" stroke-width="1.25"/>
<polygon points="469.4,95.8 472.1,101 466.7,101" fill="#000"/>
<line x1="498" y1="68" x2="498" y2="102.2" stroke="#000" stroke-width="1.25"/>
<line x1="494.7" y1="68" x2="501.3" y2="68" stroke="#000" stroke-width="1.25"/>
<line x1="494.7" y1="102.2" x2="501.3" y2="102.2" stroke="#000" stroke-width="1.25"/>
<polygon points="498,86.6 501,81.8 495,81.8" fill="#000"/>
<line x1="397.6" y1="14.4" x2="397.6" y2="163.95" stroke="#000" stroke-width="1.25"/>
<line x1="394.5" y1="21.4" x2="397.6" y2="21.4" stroke="#000" stroke-width="1.05"/>
<text x="391.3" y="24.1" font-size="7.85" text-anchor="end">40</text>
<line x1="394.5" y1="56.8" x2="397.6" y2="56.8" stroke="#000" stroke-width="1.05"/>
<text x="391.3" y="59.5" font-size="7.85" text-anchor="end">30</text>
<line x1="394.5" y1="92.2" x2="397.6" y2="92.2" stroke="#000" stroke-width="1.05"/>
<text x="391.3" y="94.9" font-size="7.85" text-anchor="end">20</text>
<line x1="394.5" y1="127.6" x2="397.6" y2="127.6" stroke="#000" stroke-width="1.05"/>
<text x="391.3" y="130.3" font-size="7.85" text-anchor="end">10</text>
<line x1="394.5" y1="163" x2="397.6" y2="163" stroke="#000" stroke-width="1.05"/>
<text x="391.3" y="165.7" font-size="7.85" text-anchor="end">0</text>
<line x1="397.05" y1="163.4" x2="513" y2="163.4" stroke="#000" stroke-width="1.25"/>
<line x1="412" y1="163.4" x2="412" y2="166.3" stroke="#000" stroke-width="1.05"/>
<line x1="440.6" y1="163.4" x2="440.6" y2="166.3" stroke="#000" stroke-width="1.05"/>
<line x1="469.4" y1="163.4" x2="469.4" y2="166.3" stroke="#000" stroke-width="1.05"/>
<line x1="498" y1="163.4" x2="498" y2="166.3" stroke="#000" stroke-width="1.05"/>
<text font-size="8.0" text-anchor="end" word-spacing="0.4" transform="translate(416.6,176) rotate(-35)">Control</text>
<text font-size="8.0" text-anchor="end" word-spacing="0.4" transform="translate(445.2,176) rotate(-35)">Il3 (10ng/ml)</text>
<text font-size="8.0" text-anchor="end" word-spacing="0.4" transform="translate(474,176) rotate(-35)">Il3 (50ng/ml)</text>
<text font-size="8.0" text-anchor="end" word-spacing="0.4" transform="translate(502.6,176) rotate(-35)">Il3 (100ng/ml)</text>
<text font-size="8.45" text-anchor="middle" transform="translate(374.4,89.3) rotate(-90)">Average AGM cells ×10<tspan font-size="6.1" dy="-3.4">5</tspan><tspan dy="3.4">/ml</tspan></text>
<text x="366" y="16.2" font-size="11.4" text-anchor="start" font-weight="bold">C</text>
<line x1="412.4" y1="278" x2="412.4" y2="324" stroke="#000" stroke-width="1.25"/>
<line x1="409.1" y1="278" x2="415.7" y2="278" stroke="#000" stroke-width="1.25"/>
<line x1="409.1" y1="324" x2="415.7" y2="324" stroke="#000" stroke-width="1.25"/>
<circle cx="412.4" cy="300.6" r="2.9" fill="#000"/>
<line x1="442" y1="274.6" x2="442" y2="324.6" stroke="#000" stroke-width="1.25"/>
<line x1="438.7" y1="274.6" x2="445.3" y2="274.6" stroke="#000" stroke-width="1.25"/>
<line x1="438.7" y1="324.6" x2="445.3" y2="324.6" stroke="#000" stroke-width="1.25"/>
<circle cx="442" cy="299.6" r="4" fill="#000"/>
<line x1="471.6" y1="296.8" x2="471.6" y2="312.4" stroke="#000" stroke-width="1.25"/>
<line x1="468.3" y1="296.8" x2="474.9" y2="296.8" stroke="#000" stroke-width="1.25"/>
<line x1="468.3" y1="312.4" x2="474.9" y2="312.4" stroke="#000" stroke-width="1.25"/>
<rect x="467.9" y="300.7" width="7.4" height="7.4" fill="#000"/>
<line x1="501.6" y1="299" x2="501.6" y2="331.6" stroke="#000" stroke-width="1.25"/>
<line x1="498.3" y1="299" x2="504.9" y2="299" stroke="#000" stroke-width="1.25"/>
<line x1="498.3" y1="331.6" x2="504.9" y2="331.6" stroke="#000" stroke-width="1.25"/>
<polygon points="501.6,312.5 505.6,319.5 497.6,319.5" fill="#000"/>
<line x1="397.6" y1="225.6" x2="397.6" y2="373.95" stroke="#000" stroke-width="1.25"/>
<line x1="394.5" y1="232" x2="397.6" y2="232" stroke="#000" stroke-width="1.05"/>
<text x="391.3" y="234.7" font-size="7.85" text-anchor="end">40</text>
<line x1="394.5" y1="267.25" x2="397.6" y2="267.25" stroke="#000" stroke-width="1.05"/>
<text x="391.3" y="269.95" font-size="7.85" text-anchor="end">30</text>
<line x1="394.5" y1="302.5" x2="397.6" y2="302.5" stroke="#000" stroke-width="1.05"/>
<text x="391.3" y="305.2" font-size="7.85" text-anchor="end">20</text>
<line x1="394.5" y1="337.75" x2="397.6" y2="337.75" stroke="#000" stroke-width="1.05"/>
<text x="391.3" y="340.45" font-size="7.85" text-anchor="end">10</text>
<line x1="394.5" y1="373" x2="397.6" y2="373" stroke="#000" stroke-width="1.05"/>
<text x="391.3" y="375.7" font-size="7.85" text-anchor="end">0</text>
<line x1="397.05" y1="373.4" x2="513" y2="373.4" stroke="#000" stroke-width="1.25"/>
<line x1="412.4" y1="373.4" x2="412.4" y2="376.3" stroke="#000" stroke-width="1.05"/>
<line x1="442" y1="373.4" x2="442" y2="376.3" stroke="#000" stroke-width="1.05"/>
<line x1="471.6" y1="373.4" x2="471.6" y2="376.3" stroke="#000" stroke-width="1.05"/>
<line x1="501.6" y1="373.4" x2="501.6" y2="376.3" stroke="#000" stroke-width="1.05"/>
<text font-size="8.0" text-anchor="end" word-spacing="0.4" transform="translate(416.7,385.6) rotate(-35)">Control</text>
<text font-size="8.0" text-anchor="end" word-spacing="0.4" transform="translate(446.3,385.6) rotate(-35)">Thpo (10ng/ml)</text>
<text font-size="8.0" text-anchor="end" word-spacing="0.4" transform="translate(475.9,385.6) rotate(-35)">Thpo (50ng/ml)</text>
<text font-size="8.0" text-anchor="end" word-spacing="0.4" transform="translate(505.9,385.6) rotate(-35)">Thpo (100ng/ml)</text>
<text font-size="8.45" text-anchor="middle" transform="translate(373,298.7) rotate(-90)">Average AGM cells ×10<tspan font-size="6.1" dy="-3.4">5</tspan><tspan dy="3.4">/ml</tspan></text>
<text x="364.8" y="230.8" font-size="11.4" text-anchor="start" font-weight="bold">F</text>
</g>
<rect x="0" y="0" width="520" height="1" fill="#111"/>
<rect x="0" y="0" width="1.1" height="660" fill="#111"/>
<rect x="518.8" y="0" width="1.2" height="660" fill="#111"/>
<rect x="0" y="658.7" width="520" height="1.3" fill="#111"/>
</svg>
</body>
</html>
